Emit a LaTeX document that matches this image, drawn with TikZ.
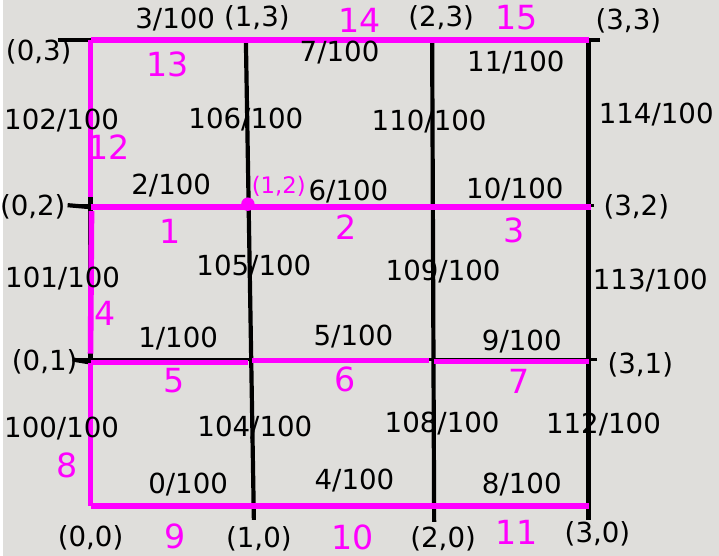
\documentclass[tikz,border=0pt]{standalone}
\usepackage{fontspec}
\setmainfont{DejaVu Sans}
\definecolor{paper}{RGB}{223,222,219}
\definecolor{pen}{RGB}{255,0,255}

\begin{document}
\begin{tikzpicture}[
  x=0.02cm, y=-0.02cm,
  edge/.style={line width=2.4pt, black},
  thinedge/.style={line width=1.6pt, black},
  route/.style={line width=3.2pt, pen},
  weight/.style={font=\fontsize{15.8}{18}\selectfont, inner sep=0pt},
  hand/.style={font=\fontsize{19}{21}\selectfont, text=pen, inner sep=0pt},
  dot/.style={circle, fill=pen, inner sep=0pt, minimum size=0.27cm}
]
\fill[paper] (0,0) rectangle (719,558);

% grid ends
\coordinate (l3) at (55,40);   \coordinate (r3) at (600,40);
\coordinate (l2) at (65,206);  \coordinate (r2) at (593,206);
\coordinate (l1) at (70,361);  \coordinate (r1) at (597,361);
\coordinate (t0) at (88,40);   \coordinate (b0) at (88,366);
\coordinate (t1) at (244,42);  \coordinate (b1) at (252,522);
\coordinate (t2) at (431,42);  \coordinate (b2) at (433,524);
\coordinate (t3) at (588,42);  \coordinate (b3) at (588,522);

% vertices
\coordinate (v00) at (88,508);  \coordinate (v30) at (588,508);
\coordinate (v01) at (88,364);  \coordinate (v11) at (246,364);
\coordinate (v11r) at (250,362); \coordinate (v21) at (428,362);
\coordinate (v21r) at (433,363); \coordinate (v31) at (588,363);
\coordinate (v02) at (88,208);  \coordinate (v32) at (590,208);
\coordinate (v03) at (88,40);   \coordinate (v33) at (588,40);
\coordinate (a0) at (88,198);   \coordinate (a1) at (89,212);
\coordinate (a2) at (88,355);

% black grid
\draw[edge] (l3) -- (r3);
\draw[thinedge] (l2) -- (r2);
\draw[thinedge] (l1) -- (r1);
\draw[edge] (l2) -- (v02);
\draw[edge] (l1) -- (v01);
\draw[edge] (t0) -- (b0);
\draw[edge] (t1) -- (b1);
\draw[edge] (t2) -- (b2);
\draw[edge] (t3) -- (b3);

% magenta route
\draw[route] (v03) -- (v33);
\draw[route] (v03) -- (a0);
\draw[route] (a1) -- (a2);
\draw[route] (v01) -- (v00);
\draw[route] (v02) -- (v32);
\draw[route] (v01) -- (v11);
\draw[route] (v11r) -- (v21);
\draw[route] (v21r) -- (v31);
\draw[route] (v00) -- (v30);
\node[dot] (v12) at (246,205) {};

% vertex labels
\node[weight] (n03) at (36,52)   {(0,3)};
\node[weight] (n13) at (255,18)  {(1,3)};
\node[weight] (n23) at (440,18)  {(2,3)};
\node[weight] (n33) at (628,21)  {(3,3)};
\node[weight] (n02) at (30,208)  {(0,2)};
\node[weight] (n32) at (636,208) {(3,2)};
\node[weight] (n01) at (42,363)  {(0,1)};
\node[weight] (n31) at (640,366) {(3,1)};
\node[weight] (n00) at (88,540)  {(0,0)};
\node[weight] (n10) at (257,541) {(1,0)};
\node[weight] (n20) at (442,541) {(2,0)};
\node[weight] (n30) at (597,536) {(3,0)};

% edge weights
\node[weight] (w3)   at (173,20)  {3/100};
\node[weight] (w7)   at (338,53)  {7/100};
\node[weight] (w11)  at (515,63)  {11/100};
\node[weight] (w102) at (59,121)  {102/100};
\node[weight] (w106) at (244,120) {106/100};
\node[weight] (w110) at (428,122) {110/100};
\node[weight] (w114) at (656,115) {114/100};
\node[weight] (w2)   at (169,186) {2/100};
\node[weight] (w6)   at (347,192) {6/100};
\node[weight] (w10)  at (514,190) {10/100};
\node[weight] (w101) at (60,280)  {101/100};
\node[weight] (w105) at (252,268) {105/100};
\node[weight] (w109) at (442,273) {109/100};
\node[weight] (w113) at (650,282) {113/100};
\node[weight] (w1)   at (176,340) {1/100};
\node[weight] (w5)   at (352,338) {5/100};
\node[weight] (w9)   at (521,343) {9/100};
\node[weight] (w100) at (59,430)  {100/100};
\node[weight] (w104) at (253,429) {104/100};
\node[weight] (w108) at (441,425) {108/100};
\node[weight] (w112) at (603,426) {112/100};
\node[weight] (w0)   at (186,486) {0/100};
\node[weight] (w4)   at (353,482) {4/100};
\node[weight] (w8)   at (521,486) {8/100};

% step numbers
\node[hand] (s1)  at (168,232) {1};
\node[hand] (s2)  at (345,228) {2};
\node[hand] (s3)  at (513,231) {3};
\node[hand] (s4)  at (103,315) {4};
\node[hand] (s5)  at (172,382) {5};
\node[hand] (s6)  at (344,381) {6};
\node[hand] (s7)  at (518,383) {7};
\node[hand] (s8)  at (64,467)  {8};
\node[hand] (s9)  at (173,539) {9};
\node[hand] (s10) at (351,540) {10};
\node[hand] (s11) at (516,535) {11};
\node[hand] (s12) at (106,148) {12};
\node[hand] (s13) at (165,65)  {13};
\node[hand] (s14) at (358,20)  {14};
\node[hand] (s15) at (516,18)  {15};
\node[hand, font=\fontsize{13}{15}\selectfont] (s12p) at (277,187) {(1,2)};
\end{tikzpicture}
\end{document}
